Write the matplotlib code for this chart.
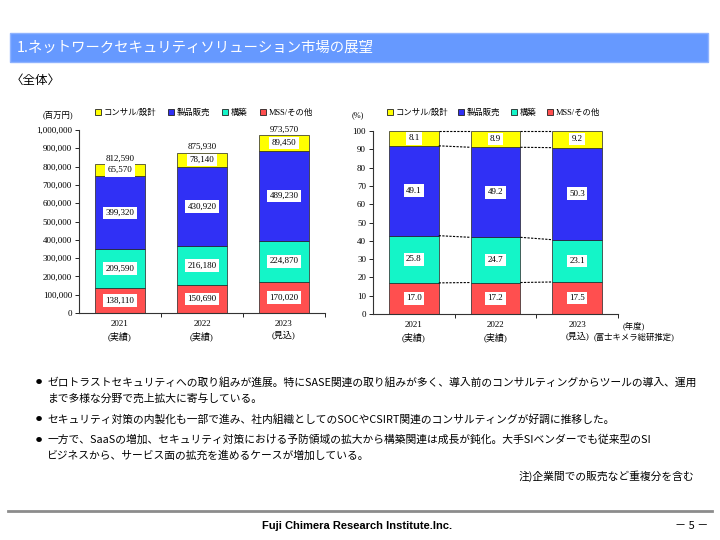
import numpy as np
import matplotlib
matplotlib.use("Agg")
import matplotlib.pyplot as plt
from matplotlib.patches import Rectangle
from matplotlib.lines import Line2D

# データ
years = ["2021", "2022", "2023"]
status = ["(実績)", "(実績)", "(見込)"]
series = ["MSS/その他", "構築", "製品販売", "コンサル/設計"]
legend_order = ["コンサル/設計", "製品販売", "構築", "MSS/その他"]
colors = {"MSS/その他": "#FF4F4F", "構築": "#14F5C8", "製品販売": "#3030F5", "コンサル/設計": "#FFFF00"}

# 金額 (百万円)
mss_val = [138110, 150690, 170020]
kouchiku_val = [209590, 216180, 224870]
seihin_val = [399320, 430920, 489230]
consul_val = [65570, 78140, 89450]
total_val = [812590, 875930, 973570]

# 構成比 (%)
mss_pct = [17.0, 17.2, 17.5]
kouchiku_pct = [25.8, 24.7, 23.1]
seihin_pct = [49.1, 49.2, 50.3]
consul_pct = [8.1, 8.9, 9.2]

bullets = [
    ["ゼロトラストセキュリティへの取り組みが進展。特にSASE関連の取り組みが多く、導入前のコンサルティングからツールの導入、運用",
     "まで多様な分野で売上拡大に寄与している。"],
    ["セキュリティ対策の内製化も一部で進み、社内組織としてのSOCやCSIRT関連のコンサルティングが好調に推移した。"],
    ["一方で、SaaSの増加、セキュリティ対策における予防領域の拡大から構築関連は成長が鈍化。大手SIベンダーでも従来型のSI",
     "ビジネスから、サービス面の拡充を進めるケースが増加している。"],
]

SERIF = ["Liberation Serif", "Noto Sans CJK JP"]
SANS = ["Noto Sans CJK JP", "DejaVu Sans"]
plt.rcParams["font.family"] = SERIF
plt.rcParams["axes.unicode_minus"] = False

W, H = 720, 540
fig = plt.figure(figsize=(7.2, 5.4), dpi=100)


def fx(px):
    return px / W


def fy(py):
    return 1 - py / H


def add_ax(x0, y0, x1, y1):
    return fig.add_axes([fx(x0), fy(y1), fx(x1 - x0), (y1 - y0) / H])


# タイトル帯
fig.add_artist(Rectangle((fx(10), fy(62)), fx(698), 29 / H, transform=fig.transFigure,
                         facecolor="#6699FF", edgecolor="#8FB3FF", lw=1))
fig.text(fx(17), fy(48), "1.ネットワークセキュリティソリューション市場の展望", color="white",
         fontsize=10.4, family=SANS, va="center", ha="left")
fig.text(fx(11), fy(80), "〈全体〉", fontsize=9, family=SANS, va="center", ha="left")

x = np.arange(len(years))
bw = 0.61
stack_val = [mss_val, kouchiku_val, seihin_val, consul_val]
stack_pct = [mss_pct, kouchiku_pct, seihin_pct, consul_pct]
lbl_box = dict(boxstyle="square,pad=0.25", facecolor="white", edgecolor="none")


def style_axis(ax):
    ax.set_xlim(-0.5, 2.5)
    ax.spines["top"].set_visible(False)
    ax.spines["right"].set_visible(False)
    for s in ["left", "bottom"]:
        ax.spines[s].set_linewidth(0.8)
        ax.spines[s].set_color("#333333")
    ax.set_xticks(x)
    ax.set_xticklabels([f"{y}\n{s}" for y, s in zip(years, status)], fontsize=6.5,
                       linespacing=1.5)
    ax.tick_params(axis="x", length=0, pad=5)
    ax.set_xticks([0.5, 1.5, 2.5], minor=True)
    ax.tick_params(axis="x", which="minor", length=3, width=0.6)
    ax.tick_params(axis="y", length=3, width=0.6, labelsize=6.5, pad=2)


def add_legend(ax, anchor_px, spacing):
    handles = [Line2D([], [], marker="s", linestyle="none", markersize=4.5,
                      markerfacecolor=colors[n], markeredgecolor="#222222",
                      markeredgewidth=0.6) for n in legend_order]
    ax.legend(handles, legend_order, ncol=4, loc="center left", frameon=False,
              bbox_to_anchor=(fx(anchor_px[0]), fy(anchor_px[1])),
              bbox_transform=fig.transFigure, fontsize=6, handlelength=0.6,
              handletextpad=0.4, columnspacing=spacing, borderpad=0, borderaxespad=0)


# 左: 金額
ax1 = add_ax(79, 130, 325, 313)
bottom = np.zeros(3)
for name, vals in zip(series, stack_val):
    ax1.bar(x, vals, bw, bottom=bottom, color=colors[name], edgecolor="#222222", lw=0.5)
    for xi, b, v in zip(x, bottom, vals):
        ax1.text(xi, b + v / 2, f"{v:,}", ha="center", va="center", fontsize=6.5, bbox=lbl_box)
    bottom += vals
for xi, t in zip(x, total_val):
    ax1.text(xi, t + 8000, f"{t:,}", ha="center", va="bottom", fontsize=6.5)
ax1.set_ylim(0, 1000000)
ax1.set_yticks(np.arange(0, 1000001, 100000))
ax1.set_yticklabels([f"{v:,}" for v in range(0, 1000001, 100000)])
style_axis(ax1)
fig.text(fx(43), fy(115), "(百万円)", fontsize=6, va="center", ha="left")
add_legend(ax1, (95, 113), 1.5)

# 右: 構成比
ax2 = add_ax(373, 131, 618, 314)
bottom = np.zeros(3)
levels = []
for name, vals in zip(series, stack_pct):
    ax2.bar(x, vals, bw, bottom=bottom, color=colors[name], edgecolor="#222222", lw=0.5)
    for xi, b, v in zip(x, bottom, vals):
        ax2.text(xi, b + v / 2, f"{v:.1f}", ha="center", va="center", fontsize=6.5, bbox=lbl_box)
    bottom = bottom + np.array(vals)
    levels.append(np.minimum(bottom.copy(), 100))
for lv in levels:
    for i in range(len(x) - 1):
        ax2.plot([x[i] + bw / 2, x[i + 1] - bw / 2], [lv[i], lv[i + 1]], color="black",
                 lw=0.8, ls=(0, (2, 1.2)), clip_on=False)
ax2.set_ylim(0, 100)
ax2.set_yticks(np.arange(0, 101, 10))
style_axis(ax2)
fig.text(fx(352), fy(115), "(%)", fontsize=6, va="center", ha="left")
add_legend(ax2, (387, 113), 1.3)
fig.text(fx(634), fy(326), "(年度)", fontsize=6, va="center", ha="center")
fig.text(fx(634), fy(337), "(富士キメラ総研推定)", fontsize=6, va="center", ha="center")

# 本文
line_y = [[382, 398], [419], [440, 456]]
for ys, lines in zip(line_y, bullets):
    fig.text(fx(36), fy(ys[0]), "●", fontsize=4.5, family=SANS, va="center", ha="left")
    for yy, txt in zip(ys, lines):
        fig.text(fx(47), fy(yy), txt, fontsize=7.75, family=SANS, va="center", ha="left")
fig.text(fx(694), fy(476), "注)企業間での販売など重複分を含む", fontsize=7.75, family=SANS,
         va="center", ha="right")

# フッター
fig.add_artist(Line2D([fx(8), fx(712)], [fy(511), fy(511)], color="#8C8C8C", lw=2,
                      transform=fig.transFigure))
fig.text(fx(357), fy(526), "Fuji Chimera Research Institute.Inc.", fontsize=8,
         family=["Liberation Sans Narrow", "Liberation Sans"], weight="bold",
         va="center", ha="center")
fig.text(fx(692), fy(526), "－ 5 －", fontsize=8, family=SANS, va="center", ha="center")

fig.savefig("out.png", dpi=100)
